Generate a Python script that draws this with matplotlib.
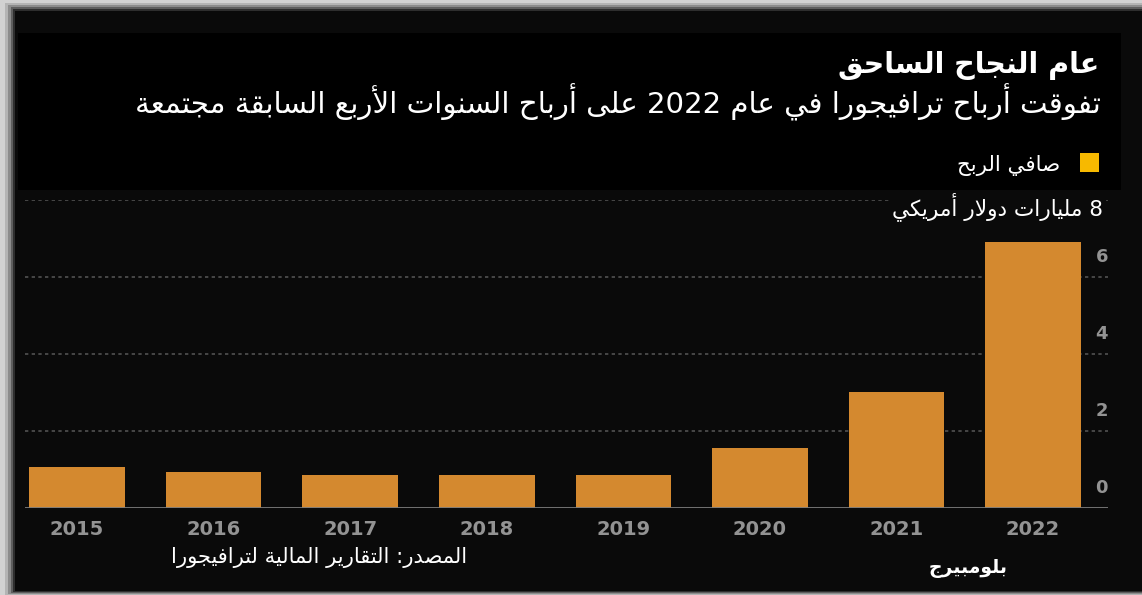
import re
import numpy as np
import matplotlib
matplotlib.use('Agg')
import matplotlib.pyplot as plt
from matplotlib.patches import Rectangle
from matplotlib.transforms import offset_copy

# ---------------- data ----------------
years = ['2015', '2016', '2017', '2018', '2019', '2020', '2021', '2022']
net_profit = [1.06, 0.94, 0.86, 0.86, 0.86, 1.56, 3.01, 6.91]
y_tick_values = [0, 2, 4, 6]
grid_levels = [2, 4, 6, 8]

title = "عام النجاح الساحق"
subtitle = "تفوقت أرباح ترافيجورا في عام 2022 على أرباح السنوات الأربع السابقة مجتمعة"
legend_label = "صافي الربح"
unit_label = "8 مليارات دولار أمريكي"
source = "المصدر: التقارير المالية لترافيجورا"
brand = "بلومبيرج"

# ---------------- minimal Arabic shaping + RTL ----------------
FOUR = {0x626: 0xFE89, 0x628: 0xFE8F, 0x62A: 0xFE95, 0x62B: 0xFE99, 0x62C: 0xFE9D,
        0x62D: 0xFEA1, 0x62E: 0xFEA5, 0x633: 0xFEB1, 0x634: 0xFEB5, 0x635: 0xFEB9,
        0x636: 0xFEBD, 0x637: 0xFEC1, 0x638: 0xFEC5, 0x639: 0xFEC9, 0x63A: 0xFECD,
        0x641: 0xFED1, 0x642: 0xFED5, 0x643: 0xFED9, 0x644: 0xFEDD, 0x645: 0xFEE1,
        0x646: 0xFEE5, 0x647: 0xFEE9, 0x64A: 0xFEF1}
TWO = {0x622: 0xFE81, 0x623: 0xFE83, 0x624: 0xFE85, 0x625: 0xFE87, 0x627: 0xFE8D,
       0x629: 0xFE93, 0x62F: 0xFEA9, 0x630: 0xFEAB, 0x631: 0xFEAD, 0x632: 0xFEAF,
       0x648: 0xFEED, 0x649: 0xFEEF}
LAMALEF = {0x622: 0xFEF5, 0x623: 0xFEF7, 0x625: 0xFEF9, 0x627: 0xFEFB}


def shape(s):
    items = []
    i = 0
    while i < len(s):
        c = ord(s[i])
        if c == 0x644 and i + 1 < len(s) and ord(s[i + 1]) in LAMALEF:
            items.append(('R', LAMALEF[ord(s[i + 1])]))
            i += 2
            continue
        if c in FOUR:
            items.append(('D', FOUR[c]))
        elif c in TWO:
            items.append(('R', TWO[c]))
        else:
            items.append(('N', s[i]))
        i += 1
    out = []
    for k, (kind, val) in enumerate(items):
        if kind == 'N':
            out.append(val)
            continue
        prev = items[k - 1][0] if k > 0 else 'N'
        nxt = items[k + 1][0] if k + 1 < len(items) else 'N'
        jp = prev == 'D'
        jn = kind == 'D' and nxt in ('D', 'R')
        if kind == 'D':
            off = 3 if (jp and jn) else 1 if jp else 2 if jn else 0
        else:
            off = 1 if jp else 0
        out.append(chr(val + off))
    toks = re.findall(r'[0-9A-Za-z]+|.', ''.join(out))
    return ''.join(reversed(toks))


# ---------------- figure ----------------
plt.rcParams['font.family'] = ['DejaVu Sans']
W, H = 1142, 595
fig = plt.figure(figsize=(W / 100, H / 100), dpi=100, facecolor='#d2d2d2')


def fx(px):
    return px / W


def fy(py):
    return 1 - py / H


def rect(x0, y0, x1, y1, color, z=-5):
    fig.add_artist(Rectangle((fx(x0), fy(y1)), fx(x1) - fx(x0), fy(y0) - fy(y1),
                             transform=fig.transFigure, facecolor=color,
                             edgecolor='none', zorder=z))


# frame / panels (screenshot border with soft shadow)
rect(5, 3, 1142, 595, '#b4b4b4', -10)
rect(8, 5, 1142, 594, '#8c8c8c', -9)
rect(11, 7, 1142, 593, '#5e5e5e', -8)
rect(13, 9, 1142, 592, '#2e2e2e', -7)
rect(15, 11, 1142, 591, '#0a0a0a', -6)
rect(18, 33, 1121, 190, '#000000', -5)

bar_color = '#D4892F'
text_grey = '#939393'

ax = fig.add_axes([fx(25), fy(508), fx(1108) - fx(25), fy(200) - fy(508)])
ax.set_facecolor('none')
x = np.arange(len(years))
ax.bar(x, net_profit, width=0.70, color=bar_color, zorder=3)
ax.set_xlim(-0.381, 7.549)
ax.set_ylim(0, 8)
for lvl in grid_levels:
    ax.axhline(lvl, color='#515151', lw=1.2, ls=(0, (2, 2)), zorder=1)
ax.axhline(0, color='#7c7c7c', lw=2, zorder=4)
for s in ax.spines.values():
    s.set_visible(False)
ax.set_yticks([])
ax.set_xticks(x, years)
ax.tick_params(axis='x', length=0, pad=8.5, labelsize=14, labelcolor=text_grey)
for lab in ax.get_xticklabels():
    lab.set_fontweight('bold')

ytrans = offset_copy(ax.get_yaxis_transform(), fig=fig, x=0, y=20, units='dots')
for v in y_tick_values:
    ax.text(1.0, v, str(v), transform=ytrans, ha='right', va='center',
            fontsize=13, fontweight='bold', color=text_grey, clip_on=False)

# texts
renderer = fig.canvas.get_renderer()


def fit(t, target_w):
    w = t.get_window_extent(renderer).width
    t.set_fontsize(t.get_fontsize() * target_w / w)


t1 = fig.text(fx(1099), fy(66), shape(title), ha='right', va='center',
              fontsize=20, fontweight='bold', color='white')
fit(t1, 261)
t2 = fig.text(fx(1101), fy(102), shape(subtitle), ha='right', va='center',
              fontsize=20, color='white')
fit(t2, 967)
rect(1080, 153, 1099, 172, '#F7B900', 2)
t3 = fig.text(fx(1060), fy(165), shape(legend_label), ha='right', va='center',
              fontsize=12, color='white')
fit(t3, 103)
t4 = fig.text(fx(1103), fy(207), shape(unit_label), ha='right', va='center',
              fontsize=13, color='white',
              bbox=dict(facecolor='#0a0a0a', edgecolor='none', pad=1.5))
fit(t4, 211)
t5 = fig.text(fx(467), fy(557), shape(source), ha='right', va='center',
              fontsize=13, color='white')
fit(t5, 298)
t6 = fig.text(fx(1008), fy(568), shape(brand), ha='right', va='center',
              fontsize=13, fontweight='bold', color='white')
fit(t6, 79)

fig.savefig('out.png', dpi=100, facecolor=fig.get_facecolor())
